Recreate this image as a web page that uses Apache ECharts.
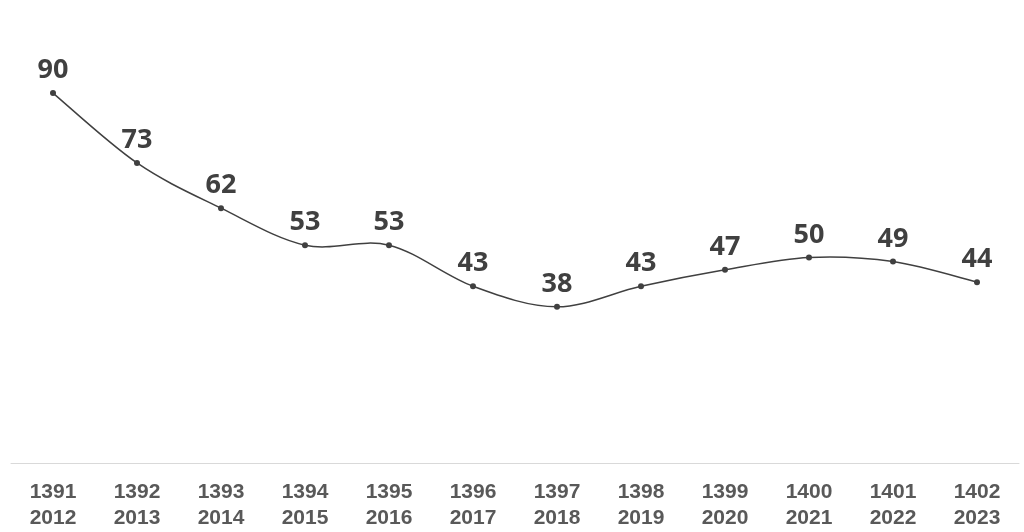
<!DOCTYPE html>
<html><head><meta charset="utf-8">
<script src="https://cdn.jsdelivr.net/npm/echarts@6/dist/echarts.min.js"></script>
<style>html,body{margin:0;padding:0;background:#fff}#c{width:1024px;height:532px}</style>
</head><body><div id="c"></div>
<script>
const persianYears = ['1391','1392','1393','1394','1395','1396','1397','1398','1399','1400','1401','1402'];
const gregorianYears = ['2012','2013','2014','2015','2016','2017','2018','2019','2020','2021','2022','2023'];
const values = [90,73,62,53,53,43,38,43,47,50,49,44];
const categories = persianYears.map((p,i)=>p+'\n'+gregorianYears[i]);
const chart = echarts.init(document.getElementById('c'));
function renderCurve(params, api){
  if (params.dataIndex !== 0) return null;
  const pts = values.map((v,i)=>api.coord([i, v]));
  const n = pts.length, children = [];
  for (let i=0;i<n-1;i++){
    const p0 = pts[Math.max(i-1,0)], p1 = pts[i], p2 = pts[i+1], p3 = pts[Math.min(i+2,n-1)];
    children.push({type:'bezierCurve',
      shape:{x1:p1[0],y1:p1[1],x2:p2[0],y2:p2[1],
        cpx1:p1[0]+(p2[0]-p0[0])/6, cpy1:p1[1]+(p2[1]-p0[1])/6,
        cpx2:p2[0]-(p3[0]-p1[0])/6, cpy2:p2[1]-(p3[1]-p1[1])/6},
      style:{stroke:'#404040',lineWidth:1.5,fill:null}});
  }
  return {type:'group',children};
}
chart.setOption({
  animation:false,
  grid:{left:11,right:5,top:52,bottom:69,containLabel:false},
  xAxis:{type:'category',data:categories,boundaryGap:true,
    axisLine:{lineStyle:{color:'#d9d9d9',width:1}},axisTick:{show:false},
    axisLabel:{color:'#595959',fontFamily:'Liberation Sans, Arial',fontWeight:'bold',fontSize:21,lineHeight:26,margin:16}},
  yAxis:{type:'value',min:0,max:100,show:false,splitLine:{show:false}},
  series:[
    {type:'custom',renderItem:renderCurve,data:values.map((v,i)=>[i,v]),encode:{x:0,y:1},z:1,silent:true},
    {type:'line',data:values,symbol:'circle',symbolSize:6,z:2,
    itemStyle:{color:'#404040'},lineStyle:{opacity:0,width:0},
    label:{show:true,position:'top',distance:6,color:'#404040',fontFamily:'Open Sans',fontWeight:'bold',fontSize:27}}]
});
</script></body></html>
